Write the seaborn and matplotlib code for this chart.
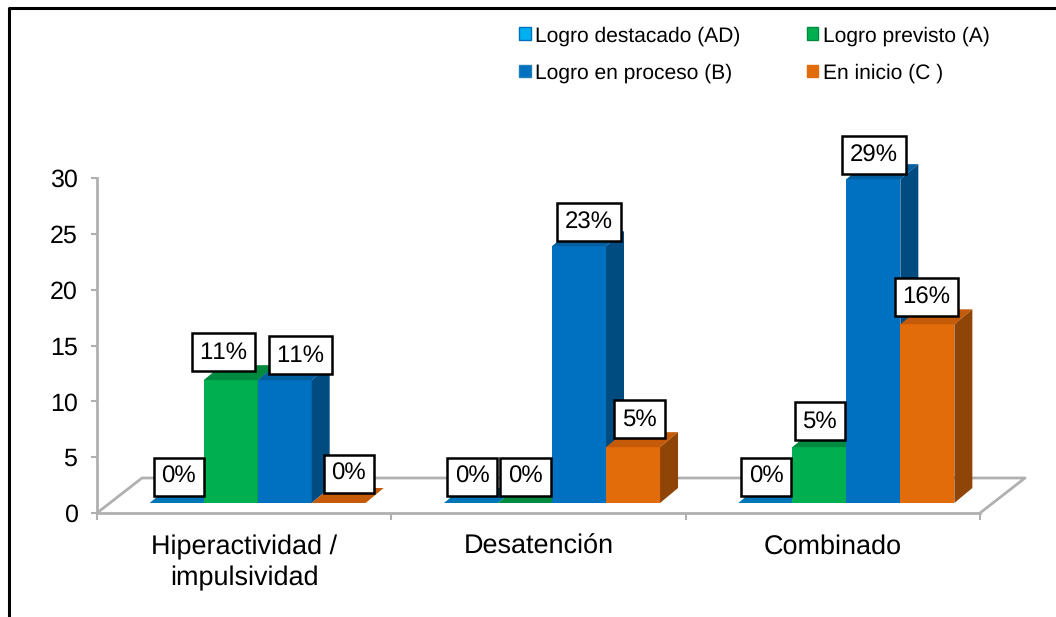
import pandas as pd
import matplotlib.pyplot as plt
import seaborn as sns
from matplotlib.lines import Line2D
from matplotlib.patches import Patch, Polygon
from matplotlib.transforms import ScaledTranslation

categorias = ['Hiperactividad /\nimpulsividad', 'Desatención', 'Combinado']
niveles = ['Logro destacado (AD)', 'Logro previsto (A)', 'Logro en proceso (B)', 'En inicio (C )']
logro_ad = [0, 0, 0]
logro_a = [11, 0, 5]
logro_b = [11, 23, 29]
logro_c = [0, 5, 16]
yticks = [0, 5, 10, 15, 20, 25, 30]

colores = ['#00b0f0', '#00b050', '#0070c0', '#e36c0a']
arriba = ['#0075b8', '#008a40', '#005f9f', '#c55a08']
lado = ['#004f8a', '#007f3a', '#004b80', '#8f4506']

# where each value box sits from the top of its bar, in pixels, (hue, group): (dx, dy)
ajuste = {(0, 0): (2, 26), (1, 0): (-7, 28), (2, 0): (16, 25), (3, 0): (10, 29),
          (0, 1): (1, 26), (1, 1): (0.5, 26), (2, 1): (10, 24), (3, 1): (6.5, 28),
          (0, 2): (1, 26), (1, 2): (0.5, 26), (2, 2): (0.5, 24), (3, 2): (-1, 27)}

plt.rcParams['font.family'] = ['Liberation Sans', 'DejaVu Sans']
plt.rcParams['text.hinting'] = 'no_hinting'
plt.rcParams['text.hinting_factor'] = 1
plt.rcParams['text.kerning_factor'] = 12

df = pd.DataFrame({'categoria': categorias * 4,
                   'nivel': [n for n in niveles for _ in categorias],
                   'valor': logro_ad + logro_a + logro_b + logro_c})

W, H = 1056, 617
fig = plt.figure(figsize=(W / 100, H / 100), dpi=100, facecolor='white')
# axis box in pixels: x 97-980, y 178 (30) to 513 (0)
ax = fig.add_axes([97 / W, (H - 513) / H, (980 - 97) / W, (513 - 178) / H])
ax.patch.set_alpha(0)

sns.barplot(data=df, x='categoria', y='valor', hue='nivel', hue_order=niveles, palette=colores,
            width=0.734, gap=0, saturation=1, errorbar=None, legend=False, ax=ax)

ax.set_xlim(-0.5, 2.5)
ax.set_ylim(0, 30)
ax.set_yticks(yticks)
ax.set_xlabel('')
ax.set_ylabel('')

gris = '#b0b0b0'
for s in ['top', 'right']:
    ax.spines[s].set_visible(False)
for s in ['left', 'bottom']:
    ax.spines[s].set_color(gris)
    ax.spines[s].set_linewidth(2)
ax.set_xticks([-0.5, 0.5, 1.5, 2.5], minor=True)
ax.tick_params(axis='x', which='major', length=0, labelsize=19.1, pad=15.5)
ax.tick_params(axis='x', which='minor', length=5, width=1.5, color=gris)
ax.tick_params(axis='y', length=4, width=1.5, color=gris, labelsize=18, pad=10)
for t in ax.get_xticklabels():
    t.set_linespacing(1.3)


def mover(dx, dy):
    return ax.transData + ScaledTranslation(dx / 100, dy / 100, fig.dpi_scale_trans)


def px(dx, dy):
    # pixel size to data size
    x0, y0 = ax.transData.inverted().transform((0, 0))
    x1, y1 = ax.transData.inverted().transform((dx, dy))
    return x1 - x0, y1 - y0


# floor
fx, fy = px(45, 35)
suelo = Line2D([-0.5, -0.5 + fx, 2.5 + fx, 2.5], [0, fy, fy, 0], color=gris, lw=2,
               clip_on=False, zorder=1)
ax.add_line(suelo)

# bars sit 13.5 px right and 10 px up from the axis corner, with an 18x15 px depth
base = mover(13.5, 10)
px_x, px_y = px(18, 15)
for i, cont in enumerate(ax.containers):
    for j, bar in enumerate(cont):
        x0, x1 = bar.get_x(), bar.get_x() + bar.get_width()
        v = bar.get_height()
        bar.set_transform(base)
        bar.set_zorder(3 + i)
        bar.set_clip_on(False)
        bar.set_edgecolor('none')
        tapa = Polygon([(x0, v), (x1, v), (x1 + px_x, v + px_y), (x0 + px_x, v + px_y)],
                       fc=arriba[i], ec='none', transform=base, zorder=3 + i, clip_on=False)
        ax.add_patch(tapa)
        if v > 0:
            cara = Polygon([(x1, 0), (x1, v), (x1 + px_x, v + px_y), (x1 + px_x, px_y)],
                           fc=lado[i], ec='none', transform=base, zorder=3 + i, clip_on=False)
            ax.add_patch(cara)
        dx, dy = ajuste[(i, j)]
        ax.annotate(f'{v:.0f}%', xy=((x0 + x1) / 2, v), xycoords=base,
                    xytext=(dx * 0.72, dy * 0.72), textcoords='offset points',
                    ha='center', va='center', fontsize=17, zorder=10,
                    bbox=dict(boxstyle='square,pad=0.33', fc='white', ec='black', lw=1.8))

# legend
orden = [0, 2, 1, 3]
bordes = ['#0070c0', '#008a40', '#2080b8', '#e36c0a']
handles = [Patch(fc=colores[i], ec=bordes[i], lw=1, label=niveles[i]) for i in orden]
fig.legend(handles=handles, ncols=2, loc='upper left', bbox_to_anchor=(515 / W, 1 - 22 / H),
           frameon=False, fontsize=15.4, handlelength=0.55, handleheight=0.55, handletextpad=0.2,
           columnspacing=3.08, labelspacing=0.82, borderaxespad=0, borderpad=0.2)

# black frame of the picture, top and left only
fig.add_artist(Line2D([9 / W, 9 / W, 1], [0, 1 - 8 / H, 1 - 8 / H], color='black', lw=2.2,
                      transform=fig.transFigure))

fig.savefig('out.png', dpi=100)
